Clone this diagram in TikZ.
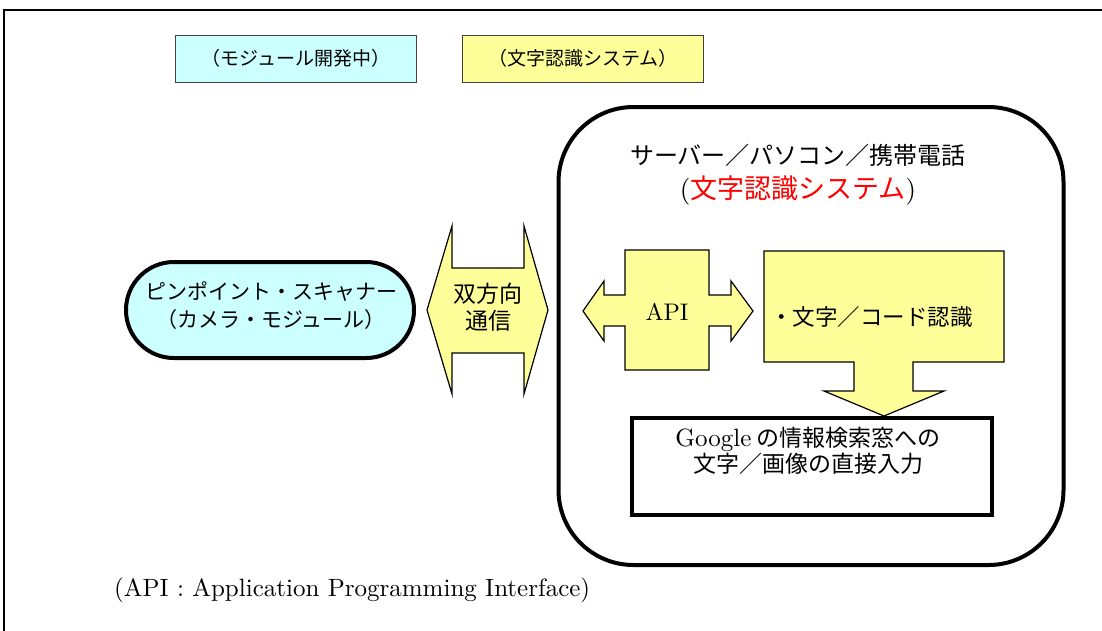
\documentclass[tikz,border=0pt]{standalone}
\usepackage{fontspec}
\newfontfamily\jp{Noto Sans CJK JP}
% wide 10pt design of Latin Modern at every size
\newfontfamily\lat{lmroman10-regular.otf}
\definecolor{paleCyan}{HTML}{CCFFFF}
\definecolor{paleYellow}{HTML}{FFFF99}
\begin{document}
\begin{tikzpicture}[x=1pt,y=-1pt,
  legend/.style={draw=black!75,line width=0.8pt,minimum width=241pt,minimum height=47pt,
                 inner sep=0pt,font=\jp\fontsize{19}{22}\selectfont},
  flowshape/.style={draw=black,line width=1.2pt,fill=paleYellow,line join=miter},
  thickbox/.style={draw=black,line width=4pt},
  lbl/.style={inner sep=0pt,align=center}]
\useasboundingbox (0,0) rectangle (1102,630);

% page frame (top and left edges)
\draw[line width=2pt] (4,631) -- (4,10) -- (1103,10);

% legend boxes
\node[legend,fill=paleCyan]   (legModule) at (296,58.5) {（モジュール開発中）};
\node[legend,fill=paleYellow] (legOcr)    at (583,58.5) {（文字認識システム）};

% host device frame
\node[thickbox,rounded corners=75pt,minimum width=505pt,minimum height=458pt] (host) at (811,336) {};
\node[lbl,font=\jp\fontsize{24}{28}\selectfont] (hostTitle) at (798,155) {サーバー／パソコン／携帯電話};
\node[lbl,font=\lat\fontsize{27}{30}\selectfont] (hostSub) at (798,191) {(\textcolor{red}{\jp 文字認識システム})};

% scanner module
\node[draw,line width=4pt,fill=paleCyan,rounded corners=47.9pt,minimum width=288pt,minimum height=96pt] (scanner) at (270,310) {};
\node[lbl,font=\jp\fontsize{21}{28}\selectfont] (scannerText) at (271,306) {ピンポイント・スキャナー\\（カメラ・モジュール）};

% two-way link arrow
\draw[flowshape] (452,226) -- (452,268) -- (524,268) -- (524,226) -- (548,310) -- (524,394)
  -- (524,353) -- (452,353) -- (452,394) -- (427,310) -- cycle;
\node[lbl,font=\jp\fontsize{23}{27}\selectfont] (linkText) at (488,307) {双方向\\通信};

% API block with arrows on both sides
\draw[flowshape] (625,250) -- (709,250) -- (709,295) -- (731,295) -- (731,281) -- (753,311)
  -- (731,341) -- (731,326) -- (709,326) -- (709,370) -- (625,370) -- (625,326) -- (604,326)
  -- (604,341) -- (583,311) -- (604,281) -- (604,295) -- (625,295) -- cycle;
\node[lbl,font=\lat\fontsize{24}{26}\selectfont] (apiText) at (667,312) {API};

% recognition block with downward arrow
\draw[flowshape] (764,251) -- (1004,251) -- (1004,362) -- (913,362) -- (913,391) -- (944,391)
  -- (884,416) -- (824,391) -- (854,391) -- (854,362) -- (764,362) -- cycle;
\node[lbl,anchor=west,font=\jp\fontsize{22.5}{26}\selectfont] (ocrText) at (770,317) {・文字／コード認識};

% search input box
\node[thickbox,minimum width=360pt,minimum height=97pt] (search) at (812,466.5) {};
\node[lbl,font=\jp\fontsize{23}{26}\selectfont] (searchText) at (808,451)
  {{\lat\fontsize{25}{26}\selectfont Google} の情報検索窓への\\文字／画像の直接入力};

% footnote
\node[lbl,anchor=west,font=\lat\fontsize{25}{28}\selectfont] (note) at (114,590)
  {(API : Application Programming Interface)};
\end{tikzpicture}
\end{document}
